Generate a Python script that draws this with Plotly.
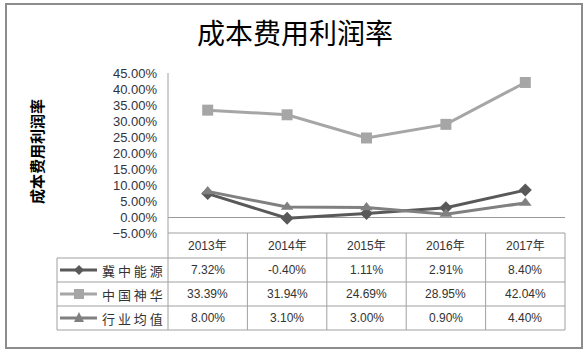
import plotly.graph_objects as go

# ---- data ----
years = ["2013年", "2014年", "2015年", "2016年", "2017年"]
series_names = ["冀中能源", "中国神华", "行业均值"]
jizhong = [7.32, -0.40, 1.11, 2.91, 8.40]
shenhua = [33.39, 31.94, 24.69, 28.95, 42.04]
industry = [8.00, 3.10, 3.00, 0.90, 4.40]
y_ticks = [-5, 0, 5, 10, 15, 20, 25, 30, 35, 40, 45]

values = [jizhong, shenhua, industry]
colors = ["#595959", "#A6A6A6", "#808080"]
symbols = ["diamond", "square", "triangle-up"]
msizes = [10, 11, 11]

W, H = 588, 352
L, R, T, B = 168, 565, 73, 233
PW, PH = R - L, B - T


def px(x):
    return (x - L) / PW


def py(y):
    return (B - y) / PH


fig = go.Figure()
xs = list(range(len(years)))
for name, vals, c, s, ms in zip(series_names, values, colors, symbols, msizes):
    fig.add_trace(go.Scatter(
        x=xs, y=[v / 100 for v in vals], mode="lines+markers", name=name,
        line=dict(color=c, width=3),
        marker=dict(symbol=s, size=ms, color=c),
        cliponaxis=False, showlegend=False))

fig.update_layout(
    width=W, height=H,
    margin=dict(l=L, r=W - R, t=T, b=H - B),
    paper_bgcolor="white", plot_bgcolor="white",
    font=dict(family="Liberation Sans, Noto Sans CJK SC", color="#333333"),
    xaxis=dict(range=[-0.5, len(years) - 0.5], showticklabels=False,
               showgrid=False, zeroline=False, showline=False, fixedrange=True),
    yaxis=dict(range=[-0.05, 0.45], tickvals=[t / 100 for t in y_ticks],
               tickformat=".2%", showgrid=False, zeroline=True,
               zerolinecolor="#9A9A9A", zerolinewidth=1, showline=False,
               ticks="", ticklabelstandoff=10,
               tickfont=dict(size=13, color="#2F3340"), fixedrange=True),
)

shapes = []
line_c = "#A0A0A0"
# outer border
shapes.append(dict(type="rect", xref="paper", yref="paper",
                   x0=px(6), x1=px(582), y0=py(4), y1=py(348),
                   line=dict(color="#8C8C8C", width=2)))
# y axis line extended through table header
shapes.append(dict(type="line", xref="paper", yref="paper",
                   x0=px(168), x1=px(168), y0=py(73), y1=py(330),
                   line=dict(color=line_c, width=1)))
# table
col_edges = [L + i * PW / len(years) for i in range(len(years) + 1)]
row_edges = [233, 258, 282, 306, 330]
shapes.append(dict(type="line", xref="paper", yref="paper",
                   x0=px(L), x1=px(R), y0=py(233), y1=py(233),
                   line=dict(color=line_c, width=1)))
for yy in row_edges[1:]:
    shapes.append(dict(type="line", xref="paper", yref="paper",
                       x0=px(57), x1=px(R), y0=py(yy), y1=py(yy),
                       line=dict(color=line_c, width=1)))
for xx in col_edges[1:]:
    shapes.append(dict(type="line", xref="paper", yref="paper",
                       x0=px(xx), x1=px(xx), y0=py(233), y1=py(330),
                       line=dict(color=line_c, width=1)))
shapes.append(dict(type="line", xref="paper", yref="paper",
                   x0=px(57), x1=px(57), y0=py(258), y1=py(330),
                   line=dict(color=line_c, width=1)))

annotations = []
C = dict(xanchor="center", yanchor="middle", showarrow=False)
# title
annotations.append(dict(text="成本费用利润率", xref="paper", yref="paper",
                        x=px(295), y=py(32), **C,
                        font=dict(size=28, color="#000000",
                                  family="Noto Sans CJK SC")))
# y axis title
annotations.append(dict(text="<b>成本费用利润率</b>", xref="paper", yref="paper",
                        x=px(36), y=py(152), textangle=-90, **C,
                        font=dict(size=15, color="#000000",
                                  family="Noto Sans CJK SC")))
# header
for i, yr in enumerate(years):
    annotations.append(dict(text=yr, xref="x", yref="paper", x=i,
                            y=py(245.5), **C,
                            font=dict(size=12, color="#333333")))
# rows
for r, (name, vals, c, s) in enumerate(zip(series_names, values, colors, symbols)):
    yc = (row_edges[r + 1] + row_edges[r + 2]) / 2
    for i, v in enumerate(vals):
        annotations.append(dict(text=f"{v:.2f}%", xref="x", yref="paper",
                                x=i, y=py(yc), **C,
                                font=dict(size=12, color="#333333")))
    annotations.append(dict(text=" ".join(name), xref="paper", yref="paper",
                            x=px(100), y=py(yc), xanchor="left",
                            yanchor="middle", showarrow=False,
                            font=dict(size=13, color="#333333",
                                      family="Noto Sans CJK SC")))
    # legend key line
    shapes.append(dict(type="line", xref="paper", yref="paper",
                       x0=px(60), x1=px(97), y0=py(yc), y1=py(yc),
                       line=dict(color=c, width=3)))
    cx = 79
    d = 5
    if s == "diamond":
        path = (f"M {px(cx-d)},{py(yc)} L {px(cx)},{py(yc-d)} "
                f"L {px(cx+d)},{py(yc)} L {px(cx)},{py(yc+d)} Z")
    elif s == "square":
        path = (f"M {px(cx-d)},{py(yc-d)} L {px(cx+d)},{py(yc-d)} "
                f"L {px(cx+d)},{py(yc+d)} L {px(cx-d)},{py(yc+d)} Z")
    else:
        path = (f"M {px(cx-d)},{py(yc+4)} L {px(cx)},{py(yc-6)} "
                f"L {px(cx+d)},{py(yc+4)} Z")
    shapes.append(dict(type="path", xref="paper", yref="paper", path=path,
                       fillcolor=c, line=dict(color=c, width=0)))

fig.update_layout(shapes=shapes, annotations=annotations)
fig.write_html("out.html")
